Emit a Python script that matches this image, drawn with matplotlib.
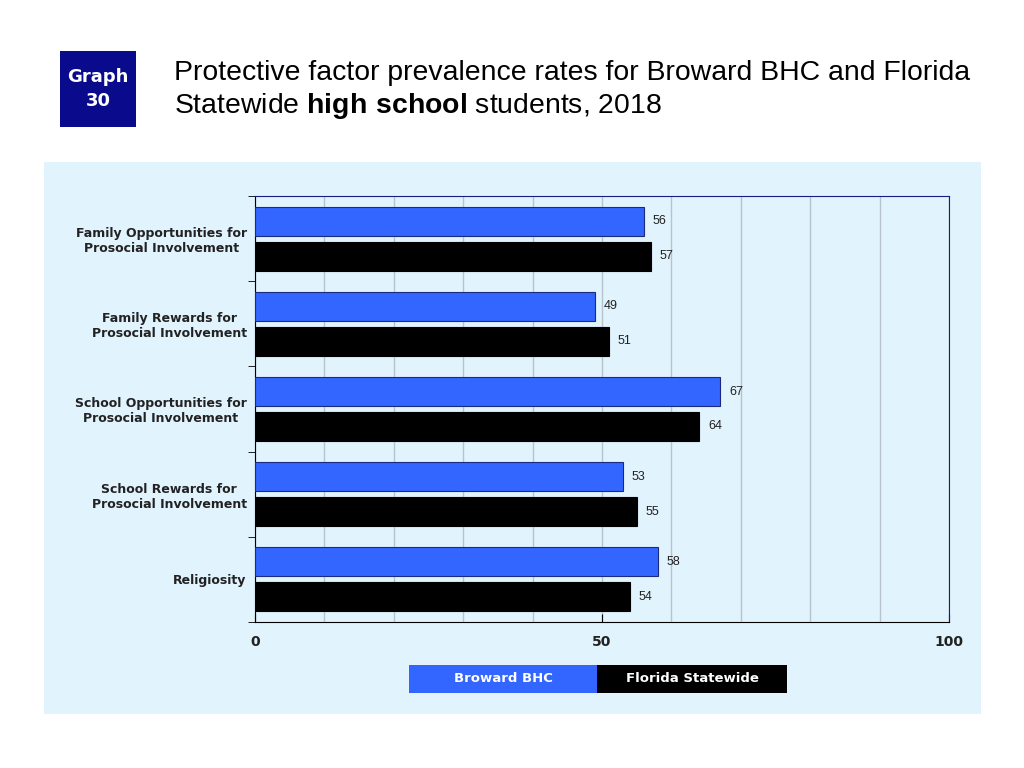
import numpy as np
import matplotlib.pyplot as plt
from matplotlib.patches import Rectangle

plt.rcParams["mathtext.fontset"] = "custom"
plt.rcParams["mathtext.rm"] = "Liberation Sans"
plt.rcParams["mathtext.bf"] = "Liberation Sans:bold"

categories = ["Family Opportunities for\nProsocial Involvement",
              "Family Rewards for\nProsocial Involvement",
              "School Opportunities for\nProsocial Involvement",
              "School Rewards for\nProsocial Involvement",
              "Religiosity"]
broward = [56, 49, 67, 53, 58]
florida = [57, 51, 64, 55, 54]
series_names = ["Broward BHC", "Florida Statewide"]

blue = "#3366ff"
panel_bg = "#e1f3fd"

fig = plt.figure(figsize=(10.24, 7.68), dpi=100)

# light blue panel behind the chart
fig.patches.append(Rectangle((44 / 1024, 1 - 714 / 768), 937 / 1024, 552 / 768,
                             transform=fig.transFigure, facecolor=panel_bg,
                             edgecolor="none", zorder=-5))

# "Graph 30" badge
fig.patches.append(Rectangle((60 / 1024, 1 - 127 / 768), 76 / 1024, 76 / 768,
                             transform=fig.transFigure, facecolor="#0a0a8c",
                             edgecolor="none", zorder=1))
fig.text(98 / 1024, 1 - 89 / 768, "Graph\n30", color="white", ha="center",
         va="center", fontsize=13, fontweight="bold", linespacing=1.4,
         family="DejaVu Sans")

# title
fig.text(174 / 1024, 1 - 73 / 768,
         "Protective factor prevalence rates for Broward BHC and Florida",
         fontsize=20.4, family="Liberation Sans", va="center")
fig.text(174 / 1024, 1 - 106 / 768,
         r"Statewide $\mathbf{high\ school}$ students, 2018",
         fontsize=20.4, family="Liberation Sans", va="center")

ax = fig.add_axes([255 / 1024, 1 - 622 / 768, 694 / 1024, 426 / 768])
ax.set_facecolor(panel_bg)

n = len(categories)
y = np.arange(n)
off = 0.205
h = 0.34
ax.barh(y - off, broward, height=h, color=blue, edgecolor="#1a2a80", linewidth=0.8, zorder=3)
ax.barh(y + off, florida, height=h, color="black", edgecolor="black", linewidth=0.8, zorder=3)

for i in range(n):
    ax.text(broward[i] + 1.3, y[i] - off, str(broward[i]), va="center", fontsize=9,
            color="#222222", family="Liberation Sans")
    ax.text(florida[i] + 1.3, y[i] + off, str(florida[i]), va="center", fontsize=9,
            color="#222222", family="Liberation Sans")

ax.set_xlim(0, 100)
ax.set_ylim(n - 0.5, -0.5)
ax.set_xticks([0, 50, 100])
ax.set_xticklabels(["0", "50", "100"], fontsize=10, fontweight="bold", color="#222222")
ax.set_xticks(np.arange(10, 100, 10), minor=True)
ax.xaxis.grid(True, which="both", color="#b8c4cc", linewidth=1, zorder=0)
ax.tick_params(axis="x", which="minor", length=0)
ax.tick_params(axis="x", which="major", length=6, direction="in", pad=9)

ax.set_yticks(y)
ax.set_yticklabels(categories, fontsize=9, fontweight="bold", color="#222222",
                   ha="right", multialignment="center")
ax.tick_params(axis="y", which="major", length=0, pad=6)
ax.set_yticks(np.arange(-0.5, n, 1), minor=True)
ax.tick_params(axis="y", which="minor", length=5, direction="out")

for s in ["left", "bottom"]:
    ax.spines[s].set_color("black")
for s in ["top", "right"]:
    ax.spines[s].set_color("#1a1a80")

# legend boxes
fig.patches.append(Rectangle((409 / 1024, 1 - 693 / 768), 188 / 1024, 28 / 768,
                             transform=fig.transFigure, facecolor=blue, edgecolor="none"))
fig.patches.append(Rectangle((597 / 1024, 1 - 693 / 768), 190 / 1024, 28 / 768,
                             transform=fig.transFigure, facecolor="black", edgecolor="none"))
fig.text(503 / 1024, 1 - 679 / 768, series_names[0], color="white", ha="center",
         va="center", fontsize=9.5, fontweight="bold")
fig.text(692 / 1024, 1 - 679 / 768, series_names[1], color="white", ha="center",
         va="center", fontsize=9.5, fontweight="bold")

fig.savefig("out.png", dpi=100)
